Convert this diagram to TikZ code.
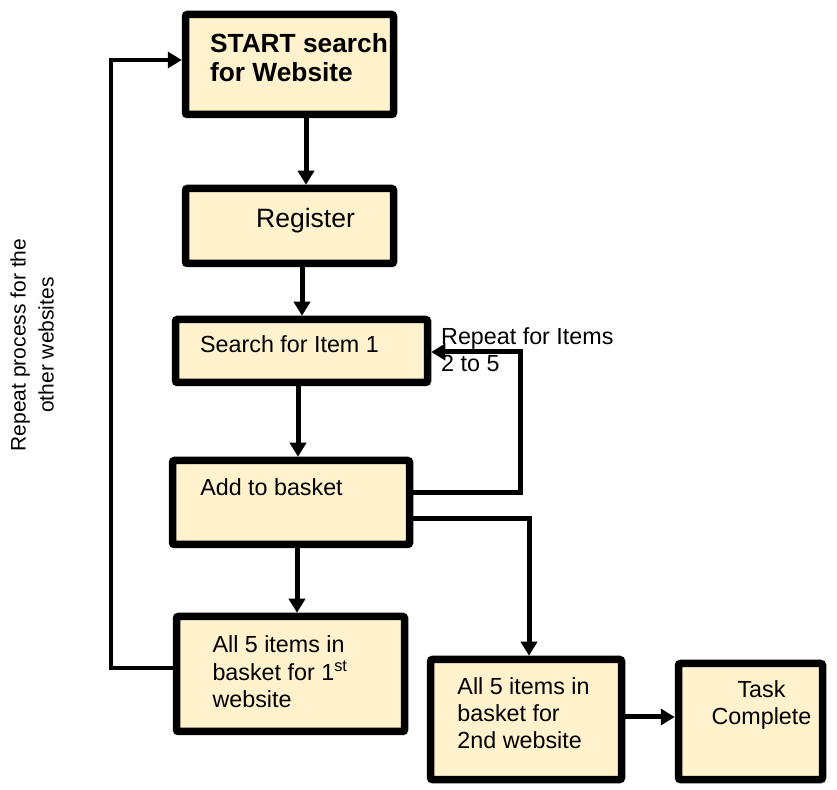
\documentclass[tikz,border=0pt]{standalone}
\usepackage{fontspec}
\setmainfont{Liberation Sans}
\usetikzlibrary{arrows.meta}
\definecolor{boxfill}{RGB}{255,242,204}
\newcommand{\boxlines}[3]{\hspace*{#1}\begin{tabular}[t]{@{}#2@{}}#3\end{tabular}}

\begin{document}
\begin{tikzpicture}[x=1pt, y=1pt,
  box/.style={draw=black, line width=7.5pt, fill=boxfill, rounded corners=2pt,
    inner sep=4pt, text height=20pt, font=\fontsize{23.3}{27}\selectfont},
  arr/.style={-{Triangle[length=14pt,width=16pt]}, line width=5pt},
  txt/.style={font=\fontsize{23.3}{27}\selectfont, inner sep=0pt}]
  \useasboundingbox (0,0) rectangle (837,789);
  % Main column
  \node[box, minimum width=208pt, minimum height=100pt, text depth=43pt,
    font=\fontsize{26.3}{29}\selectfont\bfseries] (start) at (289.5,724.5)
    {\boxlines{19pt}{l}{START search\\for Website}};
  \node[box, minimum width=208pt, minimum height=75pt, text depth=16pt,
    font=\fontsize{26.5}{30}\selectfont] (reg) at (289.5,563)
    {\boxlines{32pt}{l}{Register}};
  \node[box, minimum width=252pt, minimum height=63pt, text depth=16pt]
    (search) at (301.5,438) {\boxlines{-24pt}{l}{Search for Item 1}};
  \node[box, minimum width=237pt, minimum height=84pt, text depth=33pt]
    (add) at (291,286.5) {\boxlines{-39pt}{l}{Add to basket}};
  \node[box, minimum width=228pt, minimum height=115pt, text depth=62pt]
    (first) at (290.5,115)
    {\boxlines{-21pt}{l}{All 5 items in\\basket for 1\textsuperscript{st}\\website}};
  % Second website and end
  \node[box, minimum width=191pt, minimum height=120pt, text depth=69pt]
    (second) at (526,69.5)
    {\boxlines{-5pt}{l}{All 5 items in\\basket for\\2nd website}};
  \node[box, minimum width=144pt, minimum height=116pt, text depth=67pt]
    (task) at (750.5,67.5) {\boxlines{22pt}{c}{Task\\Complete}};

  % Flow
  \draw[arr] ([xshift=16.5pt]start.south) -- ([xshift=16.5pt]reg.north);
  \draw[arr] ([xshift=12.5pt]reg.south) -- ([xshift=0.5pt]search.north);
  \draw[arr] ([xshift=-3.5pt]search.south) -- ([xshift=7pt]add.north);
  \draw[arr] ([xshift=6pt]add.south) -- ([xshift=6.5pt]first.north);
  \draw[arr] ([yshift=9.5pt]add.east) -- ++(107,0) |- ([yshift=-1pt]search.east);
  \draw[arr] ([yshift=-16.5pt]add.east) -| ([xshift=3pt]second.north);
  \draw[arr] ([yshift=2.5pt]second.east) -- ([yshift=4.5pt]task.west);
  % Loop back to start
  \draw[arr, line width=4pt] ([yshift=6pt]first.west) -- ++(-62,0)
    |- ([yshift=4.5pt]start.west);

  % Labels
  \node[txt, anchor=base west] (items) at (441,444)
    {\boxlines{0pt}{l}{Repeat for Items\\2 to 5}};
  \node[txt, rotate=90, font=\fontsize{21}{28}\selectfont] (sites) at (34,444)
    {\boxlines{0pt}{c}{Repeat process for the\\other websites}};
\end{tikzpicture}
\end{document}
